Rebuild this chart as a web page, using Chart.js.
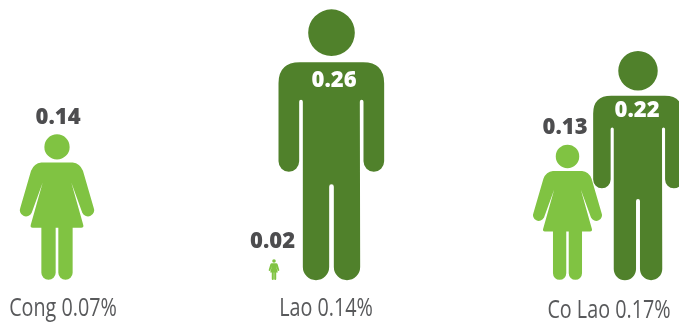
<!DOCTYPE html>
<html>
<head>
<meta charset="utf-8">
<style>
body { margin: 0; background: #fff; }
canvas { display: block; }
</style>
<script src="https://cdn.jsdelivr.net/npm/chart.js@4"></script>
</head>
<body>
<canvas id="myChart" width="679" height="325"></canvas>
<script>
var categories = ["Cong 0.07%", "Lao 0.14%", "Co Lao 0.17%"];
var womenValues = [0.14, 0.02, 0.13];
var menValues = [null, 0.26, 0.22];

// where things sit along the x axis, the picture has no real x measure
var tickSpots = [63, 326, 609];
var womenSpots = [57, 274, 567.5];
var menSpots = [331.5, 331.5, 638];
// value labels are not quite centred on their figures in the original
var womenLabelShift = [1, -1.5, -2.5];
var menLabelShift = [0, 2.5, -1];

// silhouettes, drawn in their own units
var womanShape = {
	height: 438, centre: 169, top: 132,
	path: new Path2D("M131 170 A38 38 0 1 1 207 170 A38 38 0 1 1 131 170 Z" +
		"M122 217 L216 217 Q238 219 247 242 L279 352 A18 18 0 0 1 245 368 L212 277 L248 405 Q250 413 242 413 " +
		"L216 413 L216 548 A21.5 21.5 0 0 1 173 548 L173 413 L165 413 L165 548 A21.5 21.5 0 0 1 122 548 L122 413 " +
		"L96 413 Q88 413 90 405 L126 277 L93 368 A18 18 0 0 1 59 352 L91 242 Q100 219 122 217 Z")
};
var manShape = {
	height: 812, centre: 275, top: 28,
	path: new Path2D("M205 98 A70 70 0 1 1 345 98 A70 70 0 1 1 205 98 Z" +
		"M180 187 L370 187 Q433 187 433 250 L433 484 A31 31 0 0 1 371 484 L371 305 A5.5 5.5 0 0 0 360 305 " +
		"L361 801 A39.5 39.5 0 0 1 282 801 L282 560 A7 7 0 0 0 268 560 L268 801 A39.5 39.5 0 0 1 189 801 " +
		"L189 305 A5.5 5.5 0 0 0 178 305 L178 484 A31 31 0 0 1 116 484 L116 250 Q116 187 180 187 Z")
};

function spotted(spots, values) {
	return values.map(function (v, i) { return { x: spots[i], y: v }; });
}

var figurePlugin = {
	id: "figures",
	afterDatasetsDraw: function (chart) {
		var c = chart.ctx;
		chart.data.datasets.forEach(function (ds, d) {
			chart.getDatasetMeta(d).data.forEach(function (bar, i) {
				if (ds.data[i].y === null) return;
				var s = ds.shape;
				var k = (bar.base - bar.y) / s.height;
				var vy = s === manShape ? bar.y + (bar.base - bar.y) * 0.262 : bar.y - 17;
				c.save();
				c.translate(bar.x, bar.y);
				c.scale(k, k);
				c.translate(-s.centre, -s.top);
				c.fillStyle = ds.figureColor;
				c.fill(s.path);
				c.restore();
				c.save();
				c.font = "800 22px 'Open Sans'";
				c.textAlign = "center";
				c.textBaseline = "middle";
				c.fillStyle = ds.valueColor;
				c.fillText(ds.data[i].y.toFixed(2), bar.x + ds.labelShift[i], vy);
				c.restore();
			});
		});
		// axis labels, squeezed sideways because the original face is condensed
		var x = chart.scales.x;
		x.ticks.forEach(function (t, i) {
			c.save();
			c.translate(x.getPixelForTick(i), i === 2 ? 311 : 309);
			c.scale(0.76, 1);
			c.font = "26px 'Open Sans'";
			c.textAlign = "center";
			c.textBaseline = "middle";
			c.fillStyle = "#58595b";
			c.fillText(t.label, 0, 0);
			c.restore();
		});
	}
};

var ctx = document.getElementById("myChart");
var myChart = new Chart(ctx, {
	type: "bar",
	data: {
		datasets: [
			{
				label: "Men",
				data: spotted(menSpots, menValues),
				shape: manShape,
				labelShift: menLabelShift,
				figureColor: "#50812b",
				valueColor: "#ffffff",
				backgroundColor: "rgba(0,0,0,0)",
				grouped: false,
				barThickness: 1
			},
			{
				label: "Women",
				data: spotted(womenSpots, womenValues),
				shape: womanShape,
				labelShift: womenLabelShift,
				figureColor: "#80c342",
				valueColor: "#4d4d4f",
				backgroundColor: "rgba(0,0,0,0)",
				grouped: false,
				barThickness: 1
			}
		]
	},
	plugins: [figurePlugin],
	options: {
		responsive: false,
		animation: false,
		layout: { padding: 0 },
		plugins: { legend: false, title: false, tooltip: false },
		scales: {
			x: {
				type: "linear",
				offset: false,
				min: 0,
				max: 679,
				grid: { display: false },
				border: { display: false },
				afterBuildTicks: function (axis) {
					axis.ticks = tickSpots.map(function (v) { return { value: v }; });
				},
				afterFit: function (axis) { axis.height = 45; },
				ticks: {
					display: false,
					autoSkip: false,
					maxRotation: 0,
					callback: function (v, i) { return categories[i]; }
				}
			},
			y: {
				display: false,
				min: 0,
				max: 0.269
			}
		}
	}
});
</script>
</body>
</html>
